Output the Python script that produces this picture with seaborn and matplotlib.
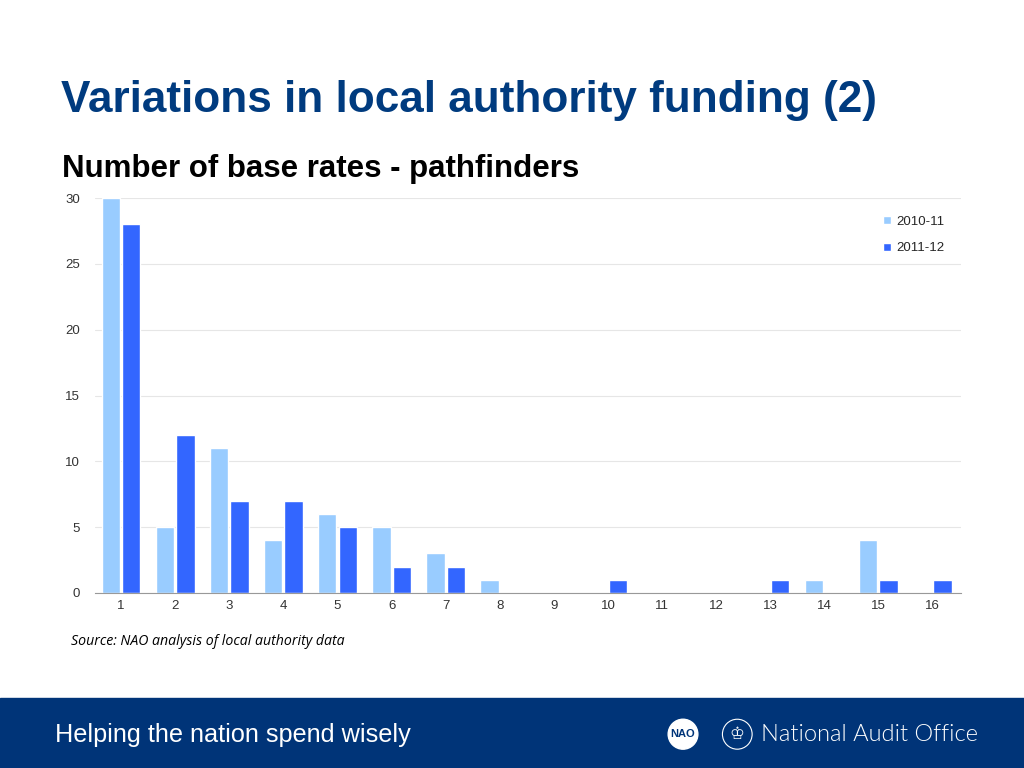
import matplotlib
matplotlib.use("Agg")
import matplotlib.pyplot as plt
import matplotlib.patches as mpatches
import seaborn as sns
import pandas as pd

# Data
categories = [str(i) for i in range(1, 17)]
rates_2010 = [30, 5, 11, 4, 6, 5, 3, 1, 0, 0, 0, 0, 0, 1, 4, 0]
rates_2011 = [28, 12, 7, 7, 5, 2, 2, 0, 0, 1, 0, 0, 1, 0, 1, 1]
series = ["2010-11", "2011-12"]
colors = ["#99CCFF", "#3366FF"]

df = pd.DataFrame({
    "category": categories * 2,
    "value": rates_2010 + rates_2011,
    "year": [series[0]] * 16 + [series[1]] * 16,
})

sns.set_style("white")
plt.rcParams['font.family'] = ['Liberation Sans', 'DejaVu Sans']

fig = plt.figure(figsize=(10.24, 7.68), dpi=100)
ax = fig.add_axes([0.093, 0.228, 0.845, 0.514])

sns.barplot(data=df, x="category", y="value", hue="year", order=categories,
            hue_order=series, palette=colors, width=0.75, gap=0.1, ax=ax,
            saturation=1, legend=True)

ax.set_ylim(0, 30)
ax.set_xlim(-0.48, 15.52)
ax.set_yticks([0, 5, 10, 15, 20, 25, 30])
ax.yaxis.grid(True, color="#E6E6E6", linewidth=0.8)
ax.set_axisbelow(True)
for s in ["top", "right", "left"]:
    ax.spines[s].set_visible(False)
ax.spines["bottom"].set_color("#999999")
ax.tick_params(axis="both", length=0, labelsize=9.5, labelcolor="#333333")
ax.tick_params(axis="y", pad=11)
ax.tick_params(axis="x", pad=5)
ax.set_xlabel("")
ax.set_ylabel("")

leg = ax.legend(loc="upper right", bbox_to_anchor=(0.995, 0.985), frameon=False,
                fontsize=9.5, handlelength=0.6, handleheight=0.6,
                labelspacing=1.1, handletextpad=0.4)

# Titles
fig.text(0.06, 0.869, "Variations in local authority funding (2)", fontsize=31.8,
         fontweight="bold", color="#003B7F", va="center")
fig.text(0.061, 0.78, "Number of base rates - pathfinders", fontsize=22.5,
         fontweight="bold", color="black", va="center")
fig.text(0.069, 0.165, "Source: NAO analysis of local authority data", fontsize=10.2,
         style="italic", color="black", va="center", family=["Open Sans", "DejaVu Sans"])

# Footer band
fig.patches.append(mpatches.Rectangle((0, 0), 1, 0.091, transform=fig.transFigure,
                                      color="#003478", zorder=0))
fig.text(0.054, 0.043, "Helping the nation spend wisely", fontsize=18.2,
         color="white", va="center")
fig.patches.append(mpatches.Ellipse((0.667, 0.044), 0.029, 0.039, transform=fig.transFigure,
                                    color="white", zorder=1))
fig.text(0.667, 0.044, "NAO", fontsize=8, fontweight="bold", color="#003478",
         ha="center", va="center", zorder=2)
fig.patches.append(mpatches.Ellipse((0.72, 0.044), 0.029, 0.039, transform=fig.transFigure,
                                    facecolor="none", edgecolor="white", linewidth=0.8,
                                    zorder=1))
fig.text(0.72, 0.044, "♔", fontsize=12, color="white", ha="center", va="center",
         family=["DejaVu Sans"])
fig.text(0.743, 0.044, "National Audit Office", fontsize=17, color="white",
         va="center", family=["Lato", "DejaVu Sans"], fontweight=300)

fig.savefig("out.png", dpi=100)
